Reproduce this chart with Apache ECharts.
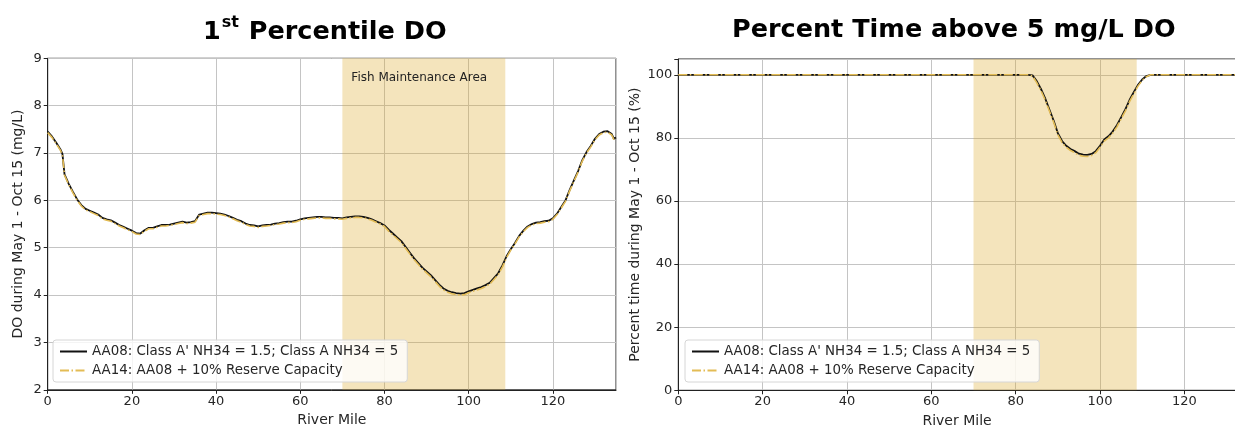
<!DOCTYPE html>
<html>
<head>
<meta charset="utf-8">
<script src="https://cdn.jsdelivr.net/npm/echarts@6/dist/echarts.min.js"></script>
<style>
  html, body { margin: 0; padding: 0; background: #fff; }
  #chart { width: 1235px; height: 428px; }
</style>
</head>
<body>
<div id="chart"></div>
<script>
// River mile stations for the DO profile
const doMiles = [0, 1, 2, 3, 3.5, 4, 5, 6, 7, 8, 9, 10, 11, 12, 13, 14, 15, 16, 17, 18, 19, 20,
  21, 22, 23, 24, 25, 26, 27, 28, 29, 30, 31, 32, 33, 34, 35, 36, 37, 38, 39, 40,
  41, 42, 43, 44, 45, 46, 47, 48, 49, 50, 51, 52, 53, 54, 55, 56, 57, 58, 59, 60,
  61, 62, 63, 64, 65, 66, 67, 68, 69, 70, 71, 72, 73, 74, 75, 76, 77, 78, 79, 80,
  81, 82, 83, 84, 85, 86, 87, 88, 89, 90, 91, 92, 93, 94, 95, 96, 97, 98, 99, 100,
  101, 102, 103, 104, 105, 106, 107, 108, 109, 110, 111, 112, 113, 114, 115, 116, 117, 118, 119, 120,
  121, 122, 123, 124, 125, 126, 127, 128, 129, 130, 131, 132, 133, 134, 134.5, 135];

// 1st percentile DO (mg/L), scenario AA08
const doAA08 = [7.45, 7.35, 7.22, 7.08, 6.98, 6.55, 6.35, 6.18, 6.02, 5.90, 5.82, 5.78, 5.74, 5.70, 5.63, 5.60, 5.58, 5.53, 5.48, 5.44, 5.40, 5.36,
  5.31, 5.30, 5.37, 5.42, 5.42, 5.45, 5.48, 5.48, 5.49, 5.51, 5.53, 5.55, 5.53, 5.54, 5.56, 5.70, 5.72, 5.74, 5.74, 5.73,
  5.72, 5.70, 5.67, 5.63, 5.59, 5.56, 5.51, 5.48, 5.47, 5.45, 5.47, 5.48, 5.49, 5.51, 5.52, 5.54, 5.55, 5.55, 5.57, 5.60,
  5.62, 5.63, 5.64, 5.65, 5.65, 5.64, 5.64, 5.63, 5.63, 5.62, 5.64, 5.65, 5.66, 5.66, 5.65, 5.63, 5.60, 5.56, 5.52, 5.47,
  5.38, 5.30, 5.22, 5.14, 5.02, 4.90, 4.78, 4.68, 4.58, 4.50, 4.42, 4.32, 4.22, 4.14, 4.09, 4.06, 4.04, 4.03, 4.04, 4.08,
  4.11, 4.14, 4.17, 4.21, 4.26, 4.36, 4.46, 4.62, 4.82, 4.97, 5.10, 5.25, 5.36, 5.45, 5.50, 5.53, 5.54, 5.56, 5.57, 5.62,
  5.72, 5.86, 6.00, 6.22, 6.42, 6.62, 6.85, 7.02, 7.15, 7.30, 7.40, 7.45, 7.46, 7.40, 7.30, 7.33];

// 1st percentile DO (mg/L), scenario AA14
const doAA14 = [7.43, 7.33, 7.20, 7.06, 6.96, 6.53, 6.33, 6.16, 6.00, 5.88, 5.80, 5.76, 5.72, 5.68, 5.61, 5.58, 5.56, 5.51, 5.46, 5.42, 5.38, 5.34,
  5.29, 5.28, 5.35, 5.40, 5.40, 5.43, 5.46, 5.46, 5.47, 5.49, 5.51, 5.53, 5.51, 5.52, 5.54, 5.68, 5.70, 5.72, 5.72, 5.71,
  5.70, 5.68, 5.65, 5.61, 5.57, 5.54, 5.49, 5.46, 5.45, 5.43, 5.45, 5.46, 5.47, 5.49, 5.50, 5.52, 5.53, 5.53, 5.55, 5.58,
  5.60, 5.61, 5.62, 5.63, 5.63, 5.62, 5.62, 5.61, 5.61, 5.60, 5.62, 5.63, 5.64, 5.64, 5.63, 5.61, 5.58, 5.54, 5.50, 5.45,
  5.35, 5.27, 5.19, 5.11, 4.99, 4.87, 4.75, 4.65, 4.55, 4.47, 4.39, 4.29, 4.19, 4.11, 4.06, 4.03, 4.01, 4.00, 4.01, 4.05,
  4.08, 4.11, 4.14, 4.18, 4.23, 4.33, 4.43, 4.59, 4.79, 4.95, 5.08, 5.23, 5.34, 5.43, 5.48, 5.51, 5.52, 5.54, 5.55, 5.60,
  5.70, 5.84, 5.98, 6.20, 6.40, 6.60, 6.83, 7.00, 7.13, 7.28, 7.38, 7.43, 7.44, 7.38, 7.28, 7.31];

// River mile stations for percent time above 5 mg/L
const pctMiles = [0, 83, 84, 85, 86, 87, 88, 89, 90, 91, 92, 93, 94, 95, 96, 97, 98, 99, 100,
  101, 102, 103, 104, 105, 106, 107, 108, 109, 110, 111, 112, 135];

// Percent time above 5 mg/L DO, scenario AA08
const pctAA08 = [100, 100, 99.8, 98.0, 95.5, 92.5, 89.0, 85.5, 81.5, 79.0, 77.5, 76.5, 75.8, 75.0, 74.7, 74.6, 74.9, 75.8, 77.5,
  79.5, 80.5, 82.0, 84.0, 86.5, 89.0, 92.0, 94.5, 96.8, 98.5, 99.6, 100, 100];

// Percent time above 5 mg/L DO, scenario AA14
const pctAA14 = [100, 100, 99.6, 97.5, 95.0, 92.0, 88.5, 85.0, 81.0, 78.5, 77.0, 76.0, 75.3, 74.5, 74.2, 74.1, 74.4, 75.3, 77.0,
  79.0, 80.0, 81.5, 83.5, 86.0, 88.5, 91.5, 94.0, 96.4, 98.2, 99.4, 100, 100];

// Fish Maintenance Area reach (river miles)
const fishReach = [70, 108.7];

const xTicks = [0, 20, 40, 60, 80, 100, 120];
const doTicks = [2, 3, 4, 5, 6, 7, 8, 9];
const pctTicks = [0, 20, 40, 60, 80, 100];

const nameAA08 = "AA08: Class A' NH34 = 1.5; Class A NH34 = 5";
const nameAA14 = 'AA14: AA08 + 10% Reserve Capacity';

const FONT = 'DejaVu Sans';
const TXT = '#262626';
const GRIDLINE = '#c4c4c4';
const SHADE = 'rgba(218, 165, 32, 0.30)';
const GOLD = '#e3bc55';
const DASHDOT = [9, 2.5, 1.5, 2.5];

const pairs = (xs, ys) => xs.map((x, i) => [x, ys[i]]);

function xAxisCfg(gridIndex, max) {
  return {
    type: 'value', gridIndex, min: 0, max, interval: 20,
    name: 'River Mile', nameLocation: 'middle', nameGap: 24,
    nameTextStyle: { fontFamily: FONT, fontSize: 14, color: TXT },
    axisLine: { show: true, onZero: false, lineStyle: { color: '#222', width: 1 } },
    axisTick: { show: true, length: 4, lineStyle: { color: '#222' } },
    axisLabel: { fontFamily: FONT, fontSize: 13, color: TXT, margin: 5, showMaxLabel: false,
      formatter: v => xTicks.includes(v) ? String(v) : '' },
    splitLine: { show: true, lineStyle: { color: GRIDLINE, width: 1 } }
  };
}

function yAxisCfg(gridIndex, min, max, interval, ticks, name, gap) {
  return {
    type: 'value', gridIndex, min, max, interval,
    name, nameLocation: 'middle', nameGap: gap,
    nameTextStyle: { fontFamily: FONT, fontSize: 14, color: TXT },
    axisLine: { show: true, lineStyle: { color: '#222', width: 1 } },
    axisTick: { show: true, length: 4, lineStyle: { color: '#222' } },
    axisLabel: { fontFamily: FONT, fontSize: 13, color: TXT, margin: 6,
      formatter: v => ticks.includes(v) ? String(v) : '' },
    splitLine: { show: true, lineStyle: { color: GRIDLINE, width: 1 } }
  };
}

function legendCfg(left, top) {
  return {
    left, top, orient: 'vertical',
    data: [nameAA08, nameAA14],
    itemWidth: 27, itemHeight: 14, itemGap: 6,
    padding: [5, 9, 5, 6],
    backgroundColor: 'rgba(255,255,255,0.82)',
    borderColor: '#d6d6d6', borderWidth: 1, borderRadius: 3,
    itemStyle: { opacity: 0 },
    textStyle: { fontFamily: FONT, fontSize: 13.4, color: TXT },
    selectedMode: false
  };
}

const chart = echarts.init(document.getElementById('chart'), null, { renderer: 'canvas' });

chart.setOption({
  animation: false,
  backgroundColor: '#fff',
  graphic: [
    { type: 'text', x: 203, y: 30, z: 10,
      style: { text: '{n|1}{s|st}{n| Percentile DO}', verticalAlign: 'middle', align: 'left', rich: {
        n: { fontFamily: FONT, fontSize: 25.5, fontWeight: 'bold', fill: '#000', lineHeight: 30, verticalAlign: 'bottom' },
        s: { fontFamily: FONT, fontSize: 16, fontWeight: 'bold', fill: '#000', lineHeight: 30, verticalAlign: 'top', padding: [0, 1, 10, 1] }
      } } },
    { type: 'text', x: 732, y: 30, z: 10,
      style: { text: 'Percent Time above 5 mg/L DO', verticalAlign: 'middle', align: 'left',
        fontFamily: FONT, fontSize: 25.5, fontWeight: 'bold', fill: '#000' } }
  ],
  grid: [
    { left: 47.7, top: 58.3, width: 568.3, height: 331.5, show: true, borderColor: '#222', borderWidth: 1,
      containLabel: false, outerBoundsMode: 'none' },
    { left: 678.3, top: 59, width: 557.5, height: 331.3, show: true, borderColor: '#222', borderWidth: 1,
      containLabel: false, outerBoundsMode: 'none' }
  ],
  xAxis: [xAxisCfg(0, 135), xAxisCfg(1, 132.2)],
  yAxis: [
    yAxisCfg(0, 2, 9, 1, doTicks, 'DO during May 1 - Oct 15 (mg/L)', 22),
    yAxisCfg(1, 0, 105, 20, pctTicks, 'Percent time during May 1 - Oct 15 (%)', 36)
  ],
  legend: [legendCfg(53, 340), legendCfg(685, 340)],
  series: [
    // shaded reaches
    { type: 'line', xAxisIndex: 0, yAxisIndex: 0, data: [], silent: true, z: 1,
      markArea: { silent: true, itemStyle: { color: SHADE },
        label: { show: true, position: [9, 14], formatter: 'Fish Maintenance Area',
          fontFamily: FONT, fontSize: 12, color: '#222' },
        data: [[{ xAxis: fishReach[0] }, { xAxis: fishReach[1] }]] } },
    { type: 'line', xAxisIndex: 1, yAxisIndex: 1, data: [], silent: true, z: 1,
      markArea: { silent: true, itemStyle: { color: SHADE }, label: { show: false },
        data: [[{ xAxis: fishReach[0] }, { xAxis: fishReach[1] }]] } },
    // DO profiles
    { name: nameAA08, type: 'line', xAxisIndex: 0, yAxisIndex: 0, data: pairs(doMiles, doAA08),
      symbol: 'none', z: 3, lineStyle: { color: '#111', width: 1.8 }, itemStyle: { color: '#111' } },
    { name: nameAA14, type: 'line', xAxisIndex: 0, yAxisIndex: 0, data: pairs(doMiles, doAA14),
      symbol: 'none', z: 4, lineStyle: { color: GOLD, width: 1.6, type: DASHDOT }, itemStyle: { color: GOLD } },
    // Percent time above 5 mg/L
    { name: nameAA08, type: 'line', xAxisIndex: 1, yAxisIndex: 1, data: pairs(pctMiles, pctAA08),
      symbol: 'none', z: 3, lineStyle: { color: '#111', width: 1.8 }, itemStyle: { color: '#111' } },
    { name: nameAA14, type: 'line', xAxisIndex: 1, yAxisIndex: 1, data: pairs(pctMiles, pctAA14),
      symbol: 'none', z: 4, lineStyle: { color: GOLD, width: 1.6, type: DASHDOT }, itemStyle: { color: GOLD } }
  ]
});
</script>
</body>
</html>
